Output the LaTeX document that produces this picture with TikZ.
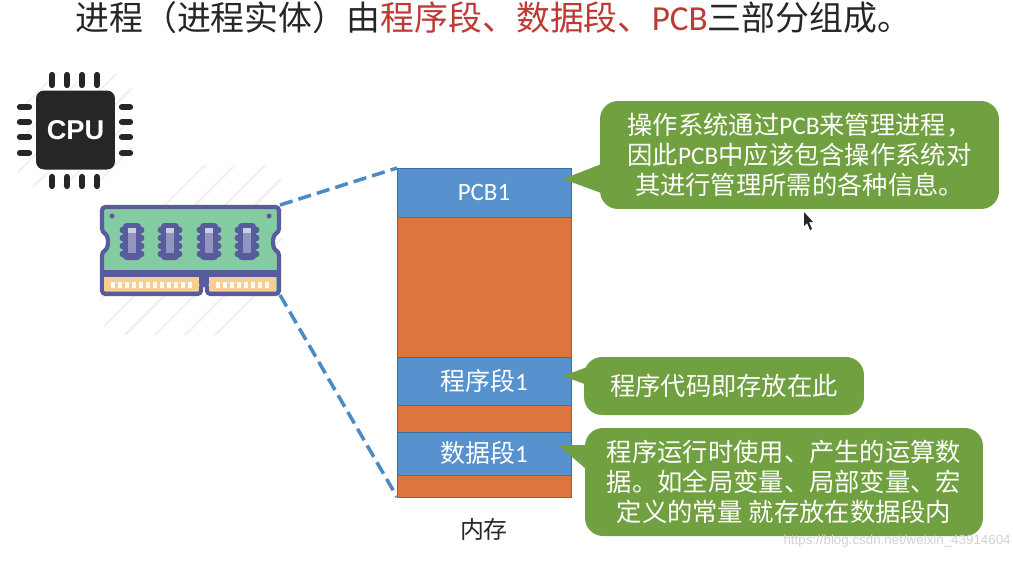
\documentclass[tikz,border=0pt]{standalone}
\usepackage{fontspec}
\setmainfont{Carlito}
\newfontfamily\cjk{Noto Sans CJK SC}
\newfontfamily\heros{Liberation Sans}
\usepackage{xcolor}
\usetikzlibrary{positioning,arrows.meta}

\definecolor{segblue}{HTML}{5892CE}
\definecolor{segorange}{HTML}{DD753F}
\definecolor{notegreen}{HTML}{70A040}
\definecolor{headred}{HTML}{BE3A34}
\definecolor{ramline}{HTML}{585C9C}
\definecolor{ramgreen}{HTML}{84CBA2}
\definecolor{ramgold}{HTML}{F8CD94}
\definecolor{hatchgray}{HTML}{F1F1F1}
\definecolor{linkblue}{HTML}{4C8AC6}

\newcommand{\pcbname}{{\fontspec{Carlito}PCB}}

\tikzset{
    seg/.style={draw=#1!75!black, fill=#1, line width=0.5pt, minimum width=3.48cm, inner sep=0pt, outer sep=0pt, text=white, font=\cjk\fontsize{14.2}{17}\selectfont},
    note/.style={fill=notegreen, rounded corners=0.36cm, inner sep=0pt, align=center, text=white, font=\cjk\fontsize{14.4}{17.2}\selectfont},
    link/.style={linkblue, line width=2pt, dash pattern=on 7.5pt off 3.5pt},
    hatchline/.style={hatchgray, line width=1.4pt},
    pin/.style={black!85, line width=3.6pt, line cap=round}
}

\begin{document}
\begin{tikzpicture}[x=0.02cm, y=-0.02cm]
    \useasboundingbox (0,0) rectangle (1013,562);

    % Heading
    \node[anchor=west, inner sep=0pt, text=black!85, font=\cjk\fontsize{19.3}{24}\selectfont] (title) at (75,18)
        {进程（进程实体）由\textcolor{headred}{程序段、数据段、{\fontspec{Carlito}\fontsize{20}{24}\selectfont PCB}}三部分组成。};

    % CPU
    \begin{scope}
        \clip (18,95) -- (40,73) -- (132,73) -- (132,165) -- (110,187) -- (18,187) -- cycle;
        \foreach \hx in {-60,-30,...,120}
            \draw[hatchline] (\hx,190) -- (\hx+120,70);
    \end{scope}
    \foreach \px in {52,67,82,97} {
        \draw[pin] (\px,75) -- (\px,85);
        \draw[pin] (\px,177) -- (\px,186);
    }
    \foreach \py in {107,122,137,153} {
        \draw[pin] (20,\py) -- (29,\py);
        \draw[pin] (122,\py) -- (130,\py);
    }
    \node[fill=black!85, rounded corners=0.16cm, minimum width=1.58cm, minimum height=1.58cm, inner sep=0pt, text=white,
        font=\heros\bfseries\fontsize{15.5}{18}\selectfont] (cpu) at (75.5,130) {CPU};

    % Memory module
    \node[minimum width=3.6cm, minimum height=1.8cm, inner sep=0pt, outer sep=0pt] (ram) at (190,250) {};
    \begin{scope}
        \clip (125,165) -- (280,165) -- (282,205) -- (282,295) -- (240,335) -- (105,335) -- (100,295) -- (100,205) -- cycle;
        \foreach \hx in {30,60,...,330}
            \draw[hatchline] (\hx,340) -- (\hx+180,160);
    \end{scope}
    \draw[ramline, line width=2.4pt, fill=ramgreen, rounded corners=2pt]
        (102,207) -- (279,207) -- (279,232) .. controls (272,236) and (272,248) .. (279,252) -- (279,294)
        -- (207,294) -- (207,284) -- (201,284) -- (201,294) -- (102,294) -- (102,252)
        .. controls (109,248) and (109,236) .. (102,232) -- cycle;
    \fill[ramline] (104,270) rectangle (277,277);
    \fill[ramgold] (104,277) rectangle (199,291);
    \fill[ramgold] (209,277) rectangle (276,291);
    \fill[ramline] (199,277) rectangle (209,284);
    \fill[ramline] (112,216) circle (2.5);
    \fill[ramline] (269,216) circle (2.5);
    \foreach \tx in {113,120,...,190}
        \fill[white!90!ramgold] (\tx-2,282) rectangle (\tx+2,288);
    \foreach \tx in {218,225,...,270}
        \fill[white!90!ramgold] (\tx-2,282) rectangle (\tx+2,288);
    \foreach \cx in {132,170,209,247} {
        \fill[ramline, rounded corners=2pt] (\cx-9,223) rectangle (\cx+9,260);
        \foreach \by in {230,238,246,254} {
            \fill[ramline] (\cx-9,\by) circle (3.4);
            \fill[ramline] (\cx+9,\by) circle (3.4);
        }
        \fill[ramline!65!white] (\cx-4,228) rectangle (\cx+4,253);
        \fill[ramline!30!white] (\cx-4,228) rectangle (\cx+4,233);
    }

    % Memory segments
    \node[seg=segblue, minimum height=0.98cm, anchor=north west] (pcb) at (397,168) {\fontspec{Carlito}PCB1};
    \node[seg=segorange, minimum height=2.8cm, below=0pt of pcb] (gapa) {};
    \node[seg=segblue, minimum height=0.96cm, below=0pt of gapa] (code) {程序段{\fontspec{Carlito}1}};
    \node[seg=segorange, minimum height=0.54cm, below=0pt of code] (gapb) {};
    \node[seg=segblue, minimum height=0.86cm, below=0pt of gapb] (data) {数据段{\fontspec{Carlito}1}};
    \node[seg=segorange, minimum height=0.44cm, below=0pt of data] (gapc) {};
    \node[below=0.42cm of gapc, inner sep=0pt, font=\cjk\fontsize{13.6}{17}\selectfont, text=black!85] (memlabel) {内存};

    % Dashed links
    \draw[link] (ram.north east) -- (pcb.north west);
    \draw[link] (ram.south east) -- (gapc.south west);

    % Notes
    \coordinate (pcbtip) at (563,179);
    \coordinate (codetip) at (563,376);
    \coordinate (datatip) at (558,445);
    \fill[notegreen] (pcbtip) -- (604,163) -- (604,194) -- cycle;
    \fill[notegreen] (codetip) -- (590,366) -- (590,386) -- cycle;
    \fill[notegreen] (datatip) -- (592,445) -- (592,474) -- cycle;
    \node[note, minimum width=7.98cm, minimum height=2.16cm] (pcbnote) at (799.5,155)
        {操作系统通过\pcbname 来管理进程，\\因此\pcbname 中应该包含操作系统对\\其进行管理所需的各种信息。};
    \node[note, minimum width=5.6cm, minimum height=1.16cm] (codenote) at (724,386)
        {程序代码即存放在此};
    \node[note, minimum width=7.96cm, minimum height=2.16cm] (datanote) at (784,482)
        {程序运行时使用、产生的运算数\\据。如全局变量、局部变量、宏\\定义的常量 就存放在数据段内};

    % Mouse pointer
    \fill[black!85] (804,212) -- (804,226) -- (807,223) -- (810,230) -- (812,229) -- (809,222) -- (813,222) -- cycle;

    % Watermark
    \node[anchor=east, inner sep=0pt, text=black!18, font=\heros\fontsize{7.6}{9}\selectfont] (mark) at (1011,541)
        {https://blog.csdn.net/weixin\_43914604};
\end{tikzpicture}
\end{document}
